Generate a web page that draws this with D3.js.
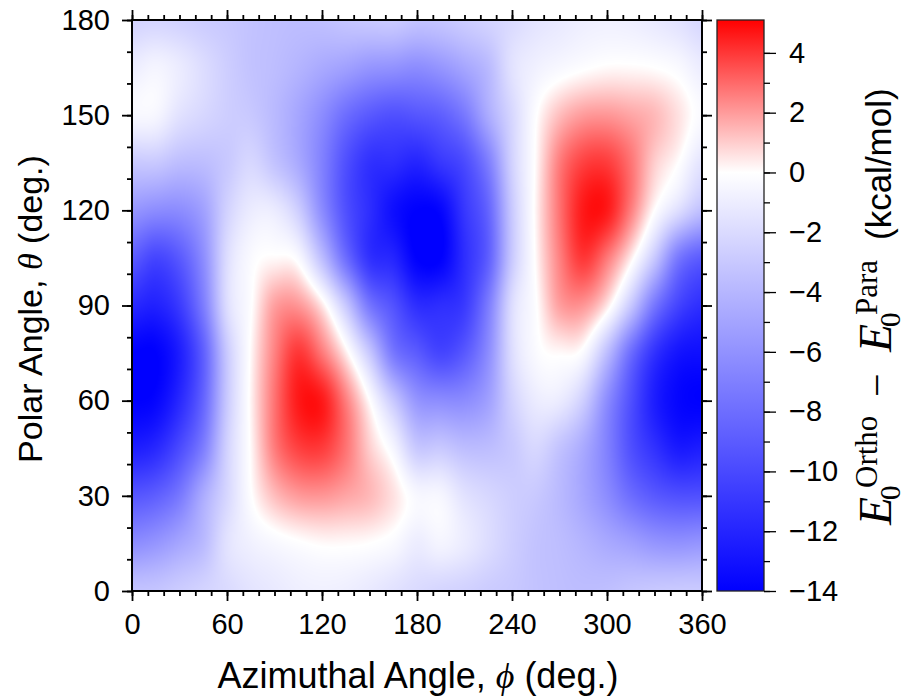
<!DOCTYPE html>
<html>
<head>
<meta charset="utf-8">
<script src="https://cdn.jsdelivr.net/npm/d3@7"></script>
<style>
  body { margin: 0; background: #ffffff; }
  svg { display: block; }
</style>
</head>
<body>
<svg id="chart" width="907" height="698"></svg>
<script>
// Energy difference E0(Ortho) - E0(Para), kcal/mol, on a 15-degree grid.
// Columns: azimuthal angle phi; one array per polar angle theta.
const phiGrid   = [0, 15, 30, 45, 60, 75, 90, 105, 120, 135, 150, 165, 180, 195, 210, 225, 240, 255, 270, 285, 300, 315, 330, 345, 360];
const thetaGrid = [0, 15, 30, 45, 60, 75, 90, 105, 120, 135, 150, 165, 180];

const dE_theta000 = [-3.3, -3.2, -2.8, -2.4, -2.0, -1.5, -1.2, -0.9, -0.8, -0.9, -1.2, -1.6, -2.0, -2.3, -2.5, -2.8, -3.0, -3.3, -3.5, -3.6, -3.5, -3.2, -3.0, -2.9, -2.9];
const dE_theta015 = [-6.3, -5.8, -4.9, -3.8, -1.6, -0.8, -0.4, -0.1, 0.1, 0.1, 0.0, -0.3, -1.0, -0.6, -1.1, -1.9, -2.7, -3.3, -3.6, -4.1, -4.7, -5.2, -5.8, -6.0, -5.8];
const dE_theta030 = [-9.3, -8.8, -7.4, -4.6, -2.2, -0.1, 1.3, 2.0, 2.1, 1.8, 1.4, 0.6, -0.4, -0.5, -1.6, -2.2, -2.7, -3.0, -3.8, -4.9, -6.3, -8.0, -9.1, -9.6, -9.6];
const dE_theta045 = [-12.4, -11.8, -9.9, -7.1, -2.5, 0.1, 2.6, 3.8, 3.9, 2.8, 1.0, -0.5, -3.0, -3.0, -3.6, -3.6, -3.0, -2.2, -3.3, -4.7, -6.9, -9.6, -11.3, -12.6, -12.4];
const dE_theta060 = [-14.0, -13.7, -11.8, -8.5, -3.0, 0.2, 2.8, 4.6, 4.6, 2.6, 0.0, -3.0, -5.8, -6.3, -6.3, -5.2, -2.5, -1.1, -1.1, -2.7, -6.3, -9.6, -12.4, -13.7, -14.0];
const dE_theta075 = [-14.0, -14.0, -12.4, -8.8, -3.0, 0.1, 2.5, 4.0, 2.7, 0.4, -3.0, -7.4, -9.0, -10.2, -9.1, -6.3, -1.9, -0.3, 0.1, -0.3, -3.6, -8.0, -11.3, -12.9, -13.2];
const dE_theta090 = [-11.8, -12.2, -10.8, -7.2, -1.9, -0.1, 1.9, 2.1, 0.5, -3.0, -7.5, -9.5, -11.5, -11.5, -10.8, -7.2, -1.9, -0.1, 1.9, 2.1, 0.5, -3.0, -7.5, -10.3, -11.5];
const dE_theta105 = [-9.0, -10.2, -9.1, -6.3, -1.9, -0.3, 0.1, -0.3, -3.6, -8.0, -11.3, -12.0, -14.0, -14.0, -11.5, -8.8, -3.0, 0.1, 2.5, 4.0, 2.7, 0.4, -3.0, -7.4, -9.0];
const dE_theta120 = [-5.8, -6.3, -6.3, -5.2, -2.5, -1.1, -1.1, -2.7, -6.3, -9.6, -11.5, -13.2, -14.0, -13.7, -11.0, -8.5, -3.0, 0.2, 2.8, 4.6, 4.6, 2.6, 0.0, -1.8, -3.5];
const dE_theta135 = [-3.0, -3.0, -3.6, -3.6, -3.0, -2.2, -3.3, -4.7, -6.9, -9.6, -11.3, -11.5, -12.0, -11.0, -9.9, -7.1, -2.5, 0.1, 2.6, 3.8, 3.9, 2.8, 1.0, 0.0, -1.5];
const dE_theta150 = [-0.4, -0.5, -1.6, -2.2, -2.7, -3.0, -3.8, -4.9, -6.3, -8.0, -9.1, -9.6, -9.3, -8.8, -7.4, -4.6, -2.2, -0.1, 1.3, 2.0, 2.1, 1.8, 1.4, 0.6, -0.3];
const dE_theta165 = [-1.0, -0.6, -1.1, -1.9, -2.7, -3.3, -3.6, -4.1, -4.7, -5.2, -5.8, -6.0, -6.3, -5.8, -4.9, -3.8, -1.6, -0.8, -0.4, -0.1, 0.1, 0.1, 0.0, -0.3, -1.0];
const dE_theta180 = [-2.4, -2.3, -2.5, -2.8, -3.0, -3.3, -3.5, -3.6, -3.5, -3.2, -3.0, -2.9, -3.3, -3.2, -2.8, -2.4, -2.0, -1.5, -1.2, -0.9, -0.8, -0.9, -1.2, -1.6, -2.2];

const energyRows = [dE_theta000, dE_theta015, dE_theta030, dE_theta045, dE_theta060, dE_theta075,
                    dE_theta090, dE_theta105, dE_theta120, dE_theta135, dE_theta150, dE_theta165, dE_theta180];

const phiTicks      = [0, 60, 120, 180, 240, 300, 360];
const thetaTicks    = [0, 30, 60, 90, 120, 150, 180];
const colorbarTicks = [-14, -12, -10, -8, -6, -4, -2, 0, 2, 4];
const colorRange    = [-14, 5.1];

// ---- layout ----
const svg = d3.select("#chart");
const plot = { left: 132, right: 702, top: 20, bottom: 591 };
const cbBox = { left: 717, right: 764, top: 20, bottom: 591 };
const sans = "'Liberation Sans', Arial, Helvetica, sans-serif";
const serif = "'Liberation Serif', 'Times New Roman', serif";

const x = d3.scaleLinear().domain([0, 360]).range([plot.left, plot.right]);
const y = d3.scaleLinear().domain([0, 180]).range([plot.bottom, plot.top]);
const color = d3.scaleLinear()
  .domain([colorRange[0], 0, colorRange[1]])
  .range(["#0000ff", "#ffffff", "#ff0000"])
  .clamp(true);

// grid-index scales for the energy table
const gxScale = d3.scaleLinear().domain(d3.extent(phiGrid)).range([0, phiGrid.length - 1]);
const gyScale = d3.scaleLinear().domain(d3.extent(thetaGrid)).range([0, thetaGrid.length - 1]);

// ---- smooth heat map (bicubic shading of the table) ----
function catmull(p0, p1, p2, p3, t) {
  return p1 + 0.5 * t * (p2 - p0 + t * (2 * p0 - 5 * p1 + 4 * p2 - p3 + t * (3 * (p1 - p2) + p3 - p0)));
}
function sampleRow(row, gx) {
  const n = row.length;
  const i = Math.min(Math.floor(gx), n - 2);
  const t = gx - i;
  const c = k => row[Math.max(0, Math.min(n - 1, k))];
  return catmull(c(i - 1), c(i), c(i + 1), c(i + 2), t);
}
function sampleGrid(gx, gy) {
  const m = energyRows.length;
  const j = Math.min(Math.floor(gy), m - 2);
  const t = gy - j;
  const r = k => sampleRow(energyRows[Math.max(0, Math.min(m - 1, k))], gx);
  return catmull(r(j - 1), r(j), r(j + 1), r(j + 2), t);
}

const lutSize = 2048;
const lut = d3.range(lutSize).map(i => d3.rgb(color(colorRange[0] + (colorRange[1] - colorRange[0]) * i / (lutSize - 1))));
const cw = Math.round(plot.right - plot.left);
const ch = Math.round(plot.bottom - plot.top);
const canvas = document.createElement("canvas");
canvas.width = cw; canvas.height = ch;
const ctx = canvas.getContext("2d");
const img = ctx.createImageData(cw, ch);
const gxs = d3.range(cw).map(px => gxScale(x.invert(plot.left + px + 0.5)));
for (let py = 0; py < ch; py++) {
  const gy = gyScale(y.invert(plot.top + py + 0.5));
  for (let px = 0; px < cw; px++) {
    const v = sampleGrid(gxs[px], gy);
    let k = Math.round((v - colorRange[0]) / (colorRange[1] - colorRange[0]) * (lutSize - 1));
    k = Math.max(0, Math.min(lutSize - 1, k));
    const c = lut[k];
    const o = (py * cw + px) * 4;
    img.data[o] = c.r; img.data[o + 1] = c.g; img.data[o + 2] = c.b; img.data[o + 3] = 255;
  }
}
ctx.putImageData(img, 0, 0);
svg.append("image")
  .attr("x", plot.left).attr("y", plot.top)
  .attr("width", cw).attr("height", ch)
  .attr("preserveAspectRatio", "none")
  .attr("href", canvas.toDataURL());

// ---- axes ----
function styleAxis(g, width) {
  g.select(".domain").remove();
  g.selectAll(".tick line").attr("stroke", "#000").attr("stroke-width", width);
  g.selectAll(".tick text").attr("fill", "#000").style("font-family", sans).style("font-size", "29px");
}
const minorPhi = d3.range(0, 361, 10);
const minorTheta = d3.range(0, 181, 10);

svg.append("g").attr("transform", `translate(0,${plot.bottom})`)
  .call(d3.axisBottom(x).tickValues(minorPhi).tickSize(5).tickFormat(""))
  .call(g => styleAxis(g, 1.8));
svg.append("g").attr("transform", `translate(0,${plot.bottom})`)
  .call(d3.axisBottom(x).tickValues(phiTicks).tickSize(10).tickPadding(12).tickFormat(d3.format("d")))
  .call(g => styleAxis(g, 1.8));
svg.append("g").attr("transform", `translate(0,${plot.top})`)
  .call(d3.axisTop(x).tickValues(minorPhi).tickSize(5).tickFormat(""))
  .call(g => styleAxis(g, 1.8));
svg.append("g").attr("transform", `translate(0,${plot.top})`)
  .call(d3.axisTop(x).tickValues(phiTicks).tickSize(10).tickFormat(""))
  .call(g => styleAxis(g, 1.8));
svg.append("g").attr("transform", `translate(${plot.left},0)`)
  .call(d3.axisLeft(y).tickValues(minorTheta).tickSize(5).tickFormat(""))
  .call(g => styleAxis(g, 1.8));
svg.append("g").attr("transform", `translate(${plot.left},0)`)
  .call(d3.axisLeft(y).tickValues(thetaTicks).tickSize(10).tickPadding(12).tickFormat(d3.format("d")))
  .call(g => styleAxis(g, 1.8));
svg.append("g").attr("transform", `translate(${plot.right},0)`)
  .call(d3.axisRight(y).tickValues(minorTheta).tickSize(5).tickFormat(""))
  .call(g => styleAxis(g, 1.8));
svg.append("g").attr("transform", `translate(${plot.right},0)`)
  .call(d3.axisRight(y).tickValues(thetaTicks).tickSize(10).tickFormat(""))
  .call(g => styleAxis(g, 1.8));

svg.append("rect")
  .attr("x", plot.left).attr("y", plot.top)
  .attr("width", plot.right - plot.left).attr("height", plot.bottom - plot.top)
  .attr("fill", "none").attr("stroke", "#000").attr("stroke-width", 2);

// ---- axis titles ----
const xTitle = svg.append("text")
  .attr("x", 418).attr("y", 688)
  .attr("text-anchor", "middle")
  .style("font-family", sans).style("font-size", "36px").attr("fill", "#000");
xTitle.append("tspan").text("Azimuthal Angle,\u00a0");
xTitle.append("tspan").text("ϕ").style("font-family", serif).style("font-style", "italic");
xTitle.append("tspan").text("\u00a0(deg.)");

const yTitle = svg.append("text")
  .attr("transform", "translate(42,309) rotate(-90)")
  .attr("text-anchor", "middle")
  .style("font-family", sans).style("font-size", "34px").attr("fill", "#000");
yTitle.append("tspan").text("Polar Angle,\u00a0");
yTitle.append("tspan").text("θ").style("font-family", serif).style("font-style", "italic");
yTitle.append("tspan").text("\u00a0(deg.)");

// ---- colour bar ----
const cbScale = d3.scaleLinear().domain(colorRange).range([cbBox.bottom, cbBox.top]);
const defs = svg.append("defs");
const grad = defs.append("linearGradient").attr("id", "cbGrad")
  .attr("x1", 0).attr("y1", 0).attr("x2", 0).attr("y2", 1);
[colorRange[1], 0, colorRange[0]].forEach(v => {
  grad.append("stop")
    .attr("offset", (cbScale(v) - cbBox.top) / (cbBox.bottom - cbBox.top))
    .attr("stop-color", color(v));
});
svg.append("rect")
  .attr("x", cbBox.left).attr("y", cbBox.top)
  .attr("width", cbBox.right - cbBox.left).attr("height", cbBox.bottom - cbBox.top)
  .attr("fill", "url(#cbGrad)").attr("stroke", "#222").attr("stroke-width", 1.3);

svg.append("g").attr("transform", `translate(${cbBox.right},0)`)
  .call(d3.axisRight(cbScale).tickValues(d3.range(-14, 5, 1)).tickSize(6).tickFormat(""))
  .call(g => styleAxis(g, 1.3));
svg.append("g").attr("transform", `translate(${cbBox.right},0)`)
  .call(d3.axisRight(cbScale).tickValues(colorbarTicks).tickSize(12).tickPadding(13))
  .call(g => styleAxis(g, 1.3));

// colour-bar title: E_0^Ortho − E_0^Para (kcal/mol), read from bottom to top
const cbTitle = svg.append("g").attr("transform", "translate(891,525) rotate(-90)");
function piece(txt, px, dy, fs, ff, italic) {
  cbTitle.append("text")
    .attr("x", px).attr("y", dy)
    .style("font-family", ff).style("font-size", fs + "px")
    .style("font-style", italic ? "italic" : "normal")
    .attr("fill", "#000")
    .text(txt);
}
function symbolE(start, sup) {
  piece("E", start, 0, 46, serif, true);
  piece("0", start + 25, 9, 29, serif, false);
  piece(sup, start + 37, -14, 31, serif, false);
}
symbolE(0, "Ortho");
piece("−", 128, 0, 42, serif, false);
symbolE(173, "Para");
piece("(kcal/mol)", 285, 0, 35, sans, false);
</script>
</body>
</html>
